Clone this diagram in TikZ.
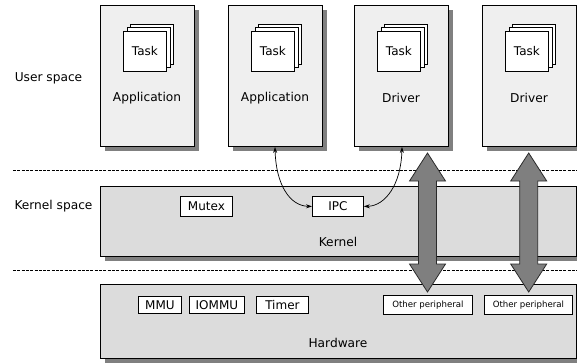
\documentclass[tikz,border=0pt]{standalone}
\usepackage{fontspec}
\setmainfont{DejaVu Sans}
\usetikzlibrary{shadows,arrows.meta}

\definecolor{userfill}{HTML}{EFEFEF}
\definecolor{kernfill}{HTML}{DCDCDC}
\definecolor{shadegray}{HTML}{808080}
\definecolor{bigarrow}{HTML}{7F7F7F}
\definecolor{bigedge}{HTML}{2A2A2A}

\tikzset{
  layer/.style={draw=black, line width=0.9pt, inner sep=0pt, outer sep=0pt,
    anchor=north west,
    general shadow={fill=shadegray, shadow xshift=5pt, shadow yshift=-5pt}},
  userbox/.style={layer, fill=userfill, minimum width=94pt, minimum height=141pt},
  taskcard/.style={draw=black, line width=0.7pt, fill=white, inner sep=0pt,
    minimum width=43pt, minimum height=40pt, anchor=north west, font=\fontsize{12}{13}\selectfont},
  unit/.style={draw=black, line width=0.8pt, fill=white, inner sep=0pt,
    anchor=north west, font=\fontsize{12}{13}\selectfont},
  periph/.style={unit, font=\fontsize{8.6}{9}\selectfont},
  caption/.style={font=\fontsize{12.2}{13}\selectfont, inner sep=0pt},
  separator/.style={line width=0.8pt, dash pattern=on 3pt off 1.3pt},
  ipclink/.style={line width=0.7pt, {Stealth[length=6pt,width=4pt]}-{Stealth[length=6pt,width=4pt]}},
  wide/.style={fill=bigarrow, draw=bigedge, line width=0.8pt, line join=miter}
}

\begin{document}
\begin{tikzpicture}[x=1pt, y=-1pt]
\clip (0,0) rectangle (577,362);
\fill[white] (0,0) rectangle (577,362);

% layer separators
\coordinate (sepAl) at (13,170);
\coordinate (sepAr) at (577,170);
\coordinate (sepBl) at (13,270);
\coordinate (sepBr) at (577,270);
\draw[separator] (sepAl) -- (sepAr);
\draw[separator] (sepBl) -- (sepBr);

% user space processes
\node[userbox] (app1) at (100,5) {};
\node[userbox] (app2) at (228,5) {};
\node[userbox] (drv1) at (354,5) {};
\node[userbox] (drv2) at (482,5) {};

% stacked task cards inside every process
\foreach \i/\bx in {1/100, 2/228, 3/354, 4/482} {
  \node[taskcard] (taskc\i) at (\bx+30.4,23.6) {};
  \node[taskcard] (taskb\i) at (\bx+26.7,27.3) {};
  \node[taskcard] (taska\i) at (\bx+23,31) {Task};
}

\node[caption] (app1lbl) at (147,98) {Application};
\node[caption] (app2lbl) at (275,98) {Application};
\node[caption] (drv1lbl) at (401,98) {Driver};
\node[caption] (drv2lbl) at (529,98) {Driver};

% kernel
\node[layer, fill=kernfill, minimum width=476pt, minimum height=70pt] (kernel) at (100,186) {};
\node[unit, minimum width=52pt, minimum height=20pt] (mutex) at (180,196) {Mutex};
\node[unit, minimum width=51pt, minimum height=20pt] (ipc) at (312,196) {IPC};
\node[caption] (kernlbl) at (338,242) {Kernel};

% hardware
\node[layer, fill=kernfill, minimum width=476pt, minimum height=74pt] (hw) at (100,284) {};
\node[unit, minimum width=43pt, minimum height=17pt] (mmu) at (138,296) {MMU};
\node[unit, minimum width=55pt, minimum height=17pt] (iommu) at (189,296) {IOMMU};
\node[unit, minimum width=52pt, minimum height=17pt] (timer) at (256,296) {Timer};
\node[periph, minimum width=89pt, minimum height=19pt] (per1) at (383,295) {Other peripheral};
\node[periph, minimum width=88pt, minimum height=19pt] (per2) at (484,295) {Other peripheral};
\node[caption] (hwlbl) at (338,343) {Hardware};

% side labels
\node[caption] (userlbl) at (48.5,78) {User space};
\node[caption] (kspacelbl) at (53.5,206) {Kernel space};

% IPC links
\coordinate (app2port) at (275,147);
\coordinate (drv1port) at (402,147);
\draw[ipclink] (app2port) .. controls (276,185) and (290,206) .. (ipc.west);
\draw[ipclink] (drv1port) .. controls (401,185) and (385,206) .. (ipc.east);

% wide double arrows between drivers and peripherals
\foreach \c in {427.5, 528.7} {
  \draw[wide] (\c,153) -- (\c+18,181) -- (\c+9,181) -- (\c+9,264) -- (\c+18,264)
    -- (\c,292) -- (\c-18,264) -- (\c-9,264) -- (\c-9,181) -- (\c-18,181) -- cycle;
}
\end{tikzpicture}
\end{document}
